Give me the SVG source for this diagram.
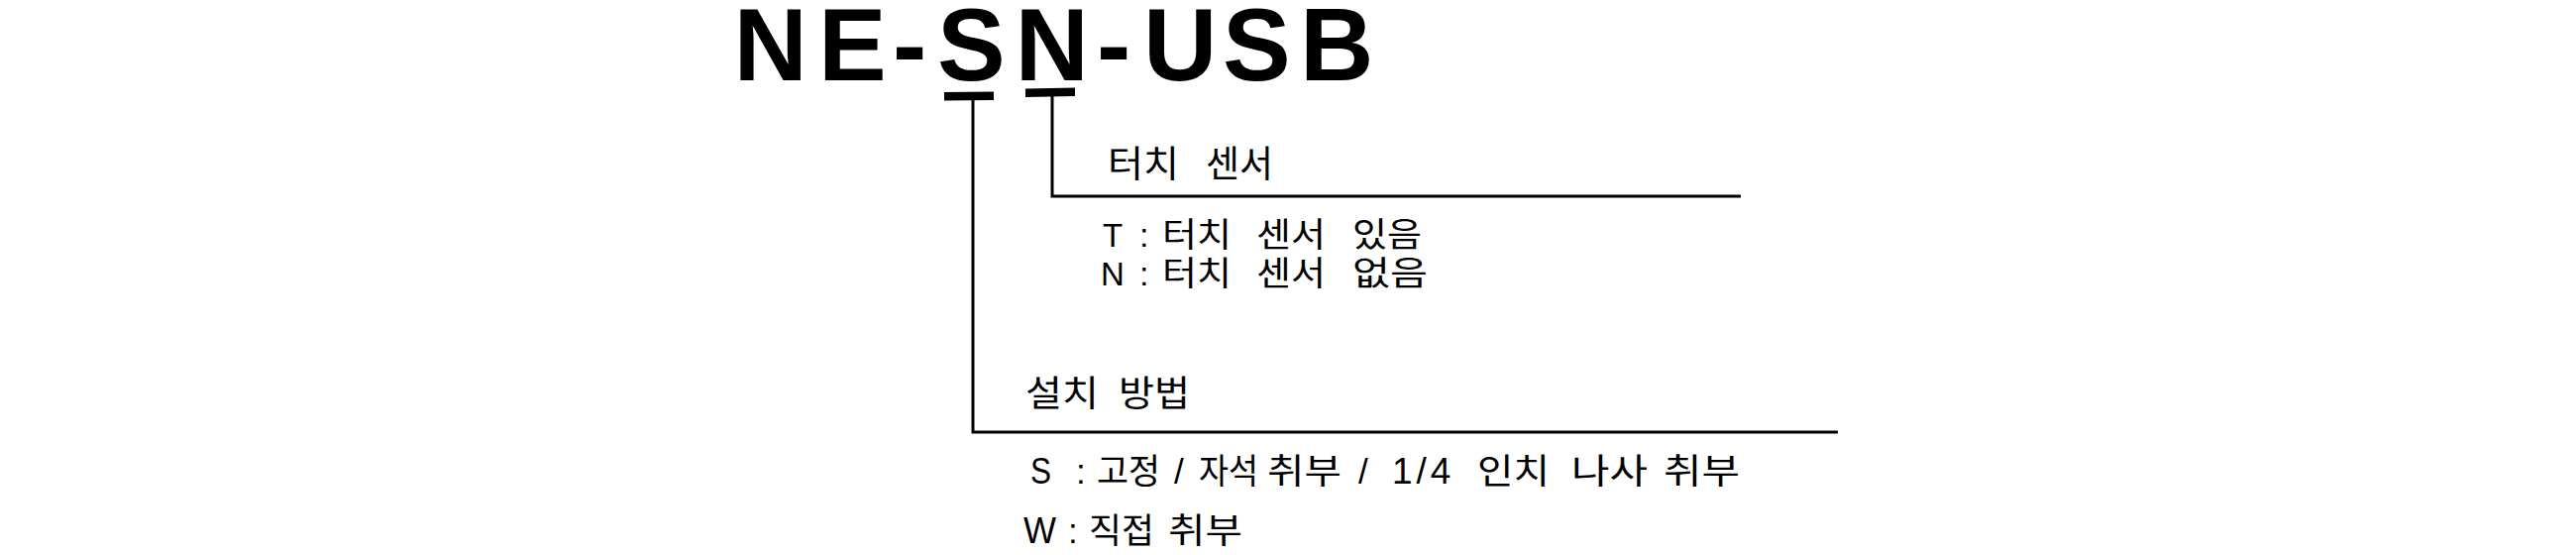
<svg xmlns="http://www.w3.org/2000/svg" width="2600" height="560" viewBox="0 0 2600 560">
<style>
.title{font-family:"Liberation Sans",Arial,sans-serif;font-weight:bold;font-size:103px;fill:#000}
.kr{font-family:"Liberation Sans","Noto Sans CJK KR",sans-serif;fill:#000}
.lbl{font-size:37px}
.opt{font-size:34px}
.opt2{font-size:35px}
.lat{font-family:"Liberation Sans",Arial,sans-serif}
.ln{stroke:#000;stroke-width:3;fill:none}
.bar{fill:#000}
</style>
<rect width="2600" height="560" fill="#fff"/>
<g id="title">
<text class="title" y="81" x="740.5 826 901 946 1024.5 1107 1154 1234 1312">NE-SN-USB</text>
</g>
<g id="connectors">
<polygon class="bar" points="953,93 1003,92.5 1003,101 953,101.5"/>
<polygon class="bar" points="1035,89.5 1085,88.5 1085,97 1035,98"/>
<polyline class="ln" points="1062,97 1062,198 1757,198"/>
<polyline class="ln" points="982,101 982,436 1855,436"/>
</g>
<g id="touch-sensor">
<text class="kr lbl" x="1118" y="179" textLength="72" lengthAdjust="spacingAndGlyphs">터치</text>
<text class="kr lbl" x="1217" y="179" textLength="68" lengthAdjust="spacingAndGlyphs">센서</text>
<g class="kr opt">
<text class="lat" x="1113" y="249" font-size="33">T</text>
<text class="lat" x="1150" y="249">:</text>
<text x="1173" y="249" textLength="70" lengthAdjust="spacingAndGlyphs">터치</text>
<text x="1268" y="249" textLength="70" lengthAdjust="spacingAndGlyphs">센서</text>
<text x="1365" y="249" textLength="70" lengthAdjust="spacingAndGlyphs">있음</text>
<text class="lat" x="1111" y="288" font-size="33">N</text>
<text class="lat" x="1150" y="288">:</text>
<text x="1173" y="288" textLength="70" lengthAdjust="spacingAndGlyphs">터치</text>
<text x="1268" y="288" textLength="70" lengthAdjust="spacingAndGlyphs">센서</text>
<text x="1365" y="288" textLength="76" lengthAdjust="spacingAndGlyphs">없음</text>
</g>
</g>
<g id="install-method">
<text class="kr" font-size="36" x="1035" y="410" textLength="74" lengthAdjust="spacingAndGlyphs">설치</text>
<text class="kr" font-size="36" x="1129" y="410" textLength="72" lengthAdjust="spacingAndGlyphs">방법</text>
<g class="kr opt2">
<text class="lat" x="1040" y="488" font-size="37" textLength="21" lengthAdjust="spacingAndGlyphs">S</text>
<text class="lat" x="1086" y="488">:</text>
<text x="1107" y="488" textLength="64" lengthAdjust="spacingAndGlyphs">고정</text>
<text class="lat" x="1185" y="488">/</text>
<text x="1210" y="488" textLength="60" lengthAdjust="spacingAndGlyphs">자석</text>
<text x="1279" y="488" textLength="75" lengthAdjust="spacingAndGlyphs">취부</text>
<text class="lat" x="1371" y="488">/</text>
<text class="lat" x="1405" y="488" font-size="37" letter-spacing="4">1/4</text>
<text x="1491" y="488" textLength="73" lengthAdjust="spacingAndGlyphs">인치</text>
<text x="1586" y="488" textLength="77" lengthAdjust="spacingAndGlyphs">나사</text>
<text x="1679" y="488" textLength="77" lengthAdjust="spacingAndGlyphs">취부</text>
<text class="lat" x="1033" y="548" font-size="37" textLength="33" lengthAdjust="spacingAndGlyphs">W</text>
<text class="lat" x="1078" y="548">:</text>
<text x="1099" y="548" textLength="66" lengthAdjust="spacingAndGlyphs">직접</text>
<text x="1179" y="548" textLength="75" lengthAdjust="spacingAndGlyphs">취부</text>
</g>
</g>
</svg>
